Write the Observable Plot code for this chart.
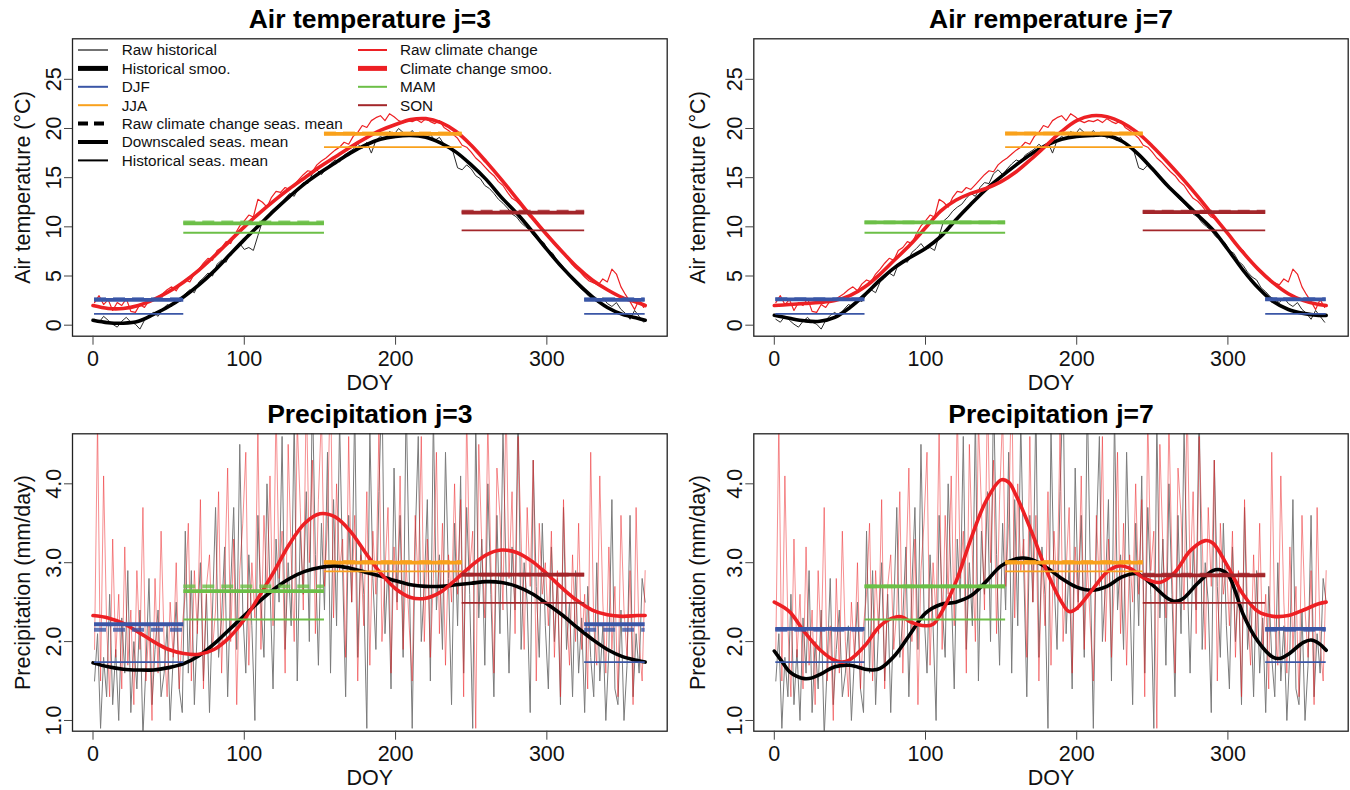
<!DOCTYPE html>
<html><head><meta charset="utf-8">
<script src="https://cdn.jsdelivr.net/npm/d3@7"></script>
<script src="https://cdn.jsdelivr.net/npm/@observablehq/plot@0.6"></script>
<style>
body{margin:0;background:#fff;}
#wrap{position:relative;width:1350px;height:790px;overflow:hidden;background:#fff;font-family:"Liberation Sans",Arial,Helvetica,sans-serif;}
.panel{position:absolute;width:675px;}
.panel svg{overflow:visible;max-width:none !important;}
</style></head><body><div id="wrap"></div>
<script>
// ---------------- data ----------------
const titles = ["Air temperature j=3", "Air remperature j=7", "Precipitation j=3", "Precipitation j=7"];
const tempTicks = [0, 5, 10, 15, 20, 25];
const precTicks = [1, 2, 3, 4];
const doyTicks = [0, 100, 200, 300];

// raw daily temperature (every 3rd day, DOY 1..364)
const rawHistT = [0.6,0.3,0.9,0.5,0.1,-0.2,0.4,0.8,0.3,0.1,-0.4,0.5,1.0,1.3,0.9,1.6,2.1,1.9,2.6,2.4,
3.2,3.6,3.3,4.4,4.8,5.3,5.0,6.2,6.6,6.4,7.4,7.8,8.3,7.7,7.9,7.6,9.1,10.6,11.0,11.6,
12.0,12.3,12.9,13.4,13.1,14.0,14.5,14.4,15.4,15.8,15.3,15.9,16.4,16.8,16.6,17.3,17.6,17.9,18.4,18.0,
18.6,17.5,18.8,19.2,18.9,19.7,19.4,20.0,19.6,19.3,19.8,19.2,19.5,19.0,19.4,18.8,19.1,18.4,18.1,17.6,
16.0,15.8,16.3,15.9,15.2,14.9,14.2,13.9,13.4,12.8,12.4,11.9,11.3,11.0,10.4,10.0,9.6,9.0,8.7,8.4,
7.6,7.3,6.5,6.1,5.4,4.9,4.6,3.8,3.4,2.9,2.6,2.3,2.8,2.2,1.9,2.3,1.6,1.2,0.6,1.5,0.9,0.3];
const rawCCT = [2.3,3.0,2.1,2.6,1.5,2.3,2.0,2.7,1.4,1.3,2.1,1.8,2.5,2.6,2.9,3.2,3.6,3.9,3.5,4.2,
4.6,4.4,5.2,5.7,6.3,6.8,6.6,7.6,7.9,8.5,8.3,9.3,10.1,10.6,11.2,11.0,12.8,12.5,12.0,13.0,
13.6,13.5,14.0,13.8,14.3,14.8,15.3,15.7,15.6,16.3,16.7,17.0,17.4,17.8,18.1,18.6,18.4,19.2,19.6,20.3,
20.1,20.8,21.1,21.3,20.8,21.5,21.2,20.8,20.6,20.8,20.7,20.9,20.6,21.0,20.7,20.5,20.8,20.1,19.8,19.4,
19.0,18.3,18.1,17.6,17.0,16.6,16.1,15.6,15.2,14.6,14.2,13.5,12.9,12.6,12.1,11.5,11.0,10.8,10.2,9.6,
9.2,8.4,7.9,7.6,6.9,6.3,5.8,5.4,4.9,4.5,4.3,4.1,4.7,4.4,5.7,5.2,3.9,3.1,2.4,1.6,2.6,1.8];

// raw daily precipitation (every 2nd day, DOY 1..365)
const rawHistP = [1.5,2.1,0.9,1.8,1.3,2.6,1.2,1.9,1.0,2.3, 1.6,2.9,1.1,2.0,1.4,2.4,0.8,1.7,2.8,1.2,
1.9,2.4,1.3,1.6,2.2,1.0,1.8,2.5,1.4,1.1, 3.4,1.6,2.9,1.2,2.2,3.0,1.5,2.6,1.1,2.4,
3.7,1.8,2.3,3.2,1.3,2.7,3.7,1.9,4.5,2.4, 1.6,3.1,2.2,1.0,3.6,2.5,1.8,4.0,2.7,1.4,
3.3,2.5,4.6,1.9,3.0,2.2,4.9,1.5,3.4,2.6, 3.9,2.0,5.2,3.1,1.7,3.5,2.4,4.4,1.6,3.8,
2.2,4.8,2.9,1.3,3.6,2.5,5.0,1.8,3.2,2.6, 0.9,4.7,2.8,1.9,3.9,5.3,2.1,3.0,1.4,4.2,
2.5,3.6,1.8,5.1,2.9,0.9,3.3,4.6,2.0,2.7, 3.8,1.5,4.9,2.4,3.1,1.9,4.4,2.8,1.2,3.5,
2.2,4.1,1.6,3.7,2.6,0.9,4.8,2.3,3.3,1.7, 4.0,2.6,1.3,3.6,2.1,4.7,2.9,1.6,3.2,2.4,
5.0,1.9,3.0,2.5,1.1,4.3,2.7,1.8,3.5,2.2, 1.4,3.2,2.0,2.8,1.2,3.7,1.9,2.5,1.3,2.9,
1.6,2.3,1.1,2.7,1.8,1.3,3.0,1.5,2.2,1.0, 1.9,3.8,1.4,1.2,2.4,1.0,1.7,3.6,1.3,2.1,
1.6,2.8,2.5];
const rawCCP = [1.9,4.8,1.5,4.1,2.2,1.3,3.3,1.8,2.6,1.4, 3.2,1.7,2.4,1.2,2.9,1.9,3.7,1.5,2.2,1.0,
2.8,1.6,3.4,2.0,1.3,2.5,1.8,3.0,1.4,2.2, 2.6,3.5,1.5,2.9,2.1,3.8,1.4,2.7,3.1,1.9,
2.4,3.9,1.6,2.8,4.2,2.0,3.3,1.2,2.9,3.5, 4.4,1.7,3.0,2.3,4.7,1.9,3.6,2.6,4.1,2.2,
5.0,2.8,3.4,1.6,4.5,3.1,2.0,4.8,3.7,2.4, 5.2,3.0,4.3,2.1,3.8,4.9,2.7,3.5,5.4,2.3,
4.0,2.9,3.3,1.8,4.6,2.5,3.6,1.5,3.1,2.2, 3.9,1.7,3.4,2.6,4.7,2.0,2.9,3.7,1.6,3.2,
2.4,4.1,1.9,3.0,2.2,1.5,3.6,2.7,4.6,2.0, 3.3,1.8,2.8,4.4,2.1,3.5,1.7,3.1,2.5,4.0,
2.6,3.8,1.3,4.9,2.9,3.4,0.9,4.5,3.2,2.3, 4.8,3.0,1.6,4.2,3.6,2.4,5.1,2.8,3.9,2.1,
4.6,3.3,1.9,3.7,2.7,4.3,1.5,3.5,2.6,3.0, 2.2,3.4,1.8,2.9,1.3,3.8,2.4,1.7,3.1,2.0,
3.5,1.9,2.6,1.4,4.4,2.2,1.7,4.1,2.5,1.6, 3.2,1.9,2.7,1.3,3.6,2.4,1.8,2.9,1.2,3.7,
2.0,1.5,2.9];

// smoothed curves
const smoothDays = [0,10,20,30,40,50,60,70,80,90,100,110,120,130,140,150,160,170,180,190,200,210,220,230,240,250,260,270,280,290,300,310,320,330,340,350,360,365];
const histSmoothT3 = [0.5,0.25,0.2,0.4,1.1,1.9,2.9,4.1,5.5,7.1,8.7,10.2,11.7,13.1,14.4,15.5,16.5,17.5,18.3,18.9,19.2,19.3,19.1,18.5,17.6,16.3,14.8,13.0,11.4,9.6,7.7,5.9,4.3,2.9,1.8,1.1,0.7,0.5];
const ccSmoothT3 = [2.0,1.7,1.7,2.0,2.6,3.4,4.4,5.6,7.0,8.5,10.0,11.4,12.7,13.9,15.0,16.1,17.1,18.1,19.0,19.8,20.4,20.9,21.0,20.6,19.7,18.3,16.6,14.8,12.9,11.0,9.2,7.5,5.9,4.6,3.6,2.8,2.3,2.0];
const histSmoothT7 = [1.0,0.7,0.45,0.4,0.8,1.8,3.1,4.6,5.9,6.9,7.8,9.0,10.7,12.3,13.8,15.1,16.3,17.4,18.3,18.9,19.2,19.3,19.3,18.7,17.5,15.9,14.2,12.7,11.2,9.7,7.7,5.6,3.8,2.4,1.6,1.2,1.0,1.0];
const ccSmoothT7 = [2.0,2.1,2.2,2.3,2.5,3.0,3.9,5.2,6.7,8.2,9.9,11.6,12.7,13.4,13.9,14.6,15.6,16.9,18.3,19.7,20.8,21.3,21.2,20.6,19.6,18.2,16.6,14.9,13.1,11.2,9.3,7.4,5.7,4.3,3.2,2.5,2.1,2.0];
const histSmoothP3 = [1.73,1.68,1.65,1.64,1.64,1.67,1.72,1.82,1.97,2.15,2.33,2.51,2.67,2.80,2.89,2.94,2.96,2.93,2.88,2.83,2.77,2.72,2.70,2.70,2.72,2.74,2.76,2.75,2.70,2.61,2.48,2.34,2.18,2.03,1.90,1.81,1.76,1.74];
const ccSmoothP3 = [2.33,2.30,2.23,2.12,2.00,1.90,1.85,1.84,1.90,2.05,2.28,2.58,2.90,3.24,3.50,3.62,3.58,3.40,3.13,2.87,2.67,2.56,2.55,2.63,2.79,2.96,3.10,3.16,3.13,3.02,2.86,2.68,2.52,2.40,2.34,2.32,2.33,2.33];
const histDaysP7 = [0,5,10,15,20,25,30,40,50,60,65,70,80,90,100,110,120,130,140,150,160,165,170,180,190,200,210,220,230,240,250,260,265,270,280,290,295,300,305,310,320,330,335,340,350,355,360,365];
const histSmoothP7 = [1.88,1.75,1.62,1.56,1.53,1.54,1.58,1.68,1.70,1.65,1.64,1.66,1.83,2.10,2.36,2.47,2.50,2.58,2.76,2.96,3.05,3.06,3.04,2.94,2.80,2.69,2.65,2.70,2.82,2.86,2.72,2.55,2.51,2.54,2.74,2.90,2.91,2.85,2.63,2.35,2.00,1.80,1.79,1.84,1.99,2.02,1.98,1.89];
const ccDaysP7 = [0,10,20,30,40,45,50,60,70,80,85,90,100,105,110,120,130,140,150,155,160,170,180,190,195,200,210,220,228,235,245,255,265,275,285,290,300,310,320,330,340,350,360,365];
const ccSmoothP7 = [2.50,2.38,2.12,1.90,1.76,1.74,1.77,1.95,2.20,2.31,2.31,2.25,2.20,2.22,2.35,2.75,3.30,3.78,4.05,4.02,3.85,3.40,2.90,2.50,2.38,2.42,2.65,2.88,2.96,2.93,2.80,2.75,2.88,3.15,3.28,3.25,2.95,2.60,2.38,2.32,2.33,2.40,2.48,2.50];

// seasons: DJF, MAM, JJA, SON, DJF (second part)
const seasonNames = ["DJF", "MAM", "JJA", "SON"];
const seasonStart = [1, 60, 153, 244, 325];
const seasonEnd = [60, 153, 244, 325, 365];
const seasonOf = [0, 1, 2, 3, 0];
const histMeanT = [1.15, 9.4, 18.1, 9.65];
const ccRawMeanT = [2.64, 10.45, 19.5, 11.55];
const downMeanT3 = [2.58, 10.35, 19.45, 11.45];
const downMeanT7 = [2.62, 10.45, 19.47, 11.5];
const histMeanP = [1.74, 2.28, 2.89, 2.49];
const ccRawMeanP = [2.15, 2.70, 3.01, 2.85];
const downMeanP3 = [2.22, 2.64, 3.00, 2.85];
const downMeanP7 = [2.16, 2.70, 3.00, 2.84];

// ---------------- styles ----------------
const seasonColors = ["#3A56A6", "#6CBF47", "#F9A11C", "#A3262A"];
const RED = "#ED2024";
const FONT = "Liberation Sans, Arial, Helvetica, sans-serif";
const TICK_FS = 21.5, LAB_FS = 21.5, TITLE_FS = 26.5;

function series(days, vals) { return vals.map((v, i) => ({d: days[i], v})); }
const dT = d3.range(1, 366, 3);
const dP = d3.range(1, 366, 2);

function segmentMarks(hist, ccRaw, down) {
  const marks = [];
  for (let k = 0; k < 5; k++) {
    const s = seasonOf[k], c = seasonColors[s];
    const row = [{x1: seasonStart[k], x2: seasonEnd[k], h: hist[s], r: ccRaw[s], w: down[s]}];
    marks.push(Plot.ruleY(row, {y: "h", x1: "x1", x2: "x2", stroke: c, strokeWidth: 1.8}));
    marks.push(Plot.ruleY(row, {y: "w", x1: "x1", x2: "x2", stroke: c, strokeWidth: 3.8}));
    marks.push(Plot.ruleY(row, {y: "r", x1: "x1", x2: "x2", stroke: c, strokeWidth: 3.8, strokeDasharray: "12,7", strokeOpacity: 0.8}));
  }
  return marks;
}

function panel(opts) {
  const {title, left, top, width, mLeft, mRight, yDomain, yTicks, yFmt, yLabel, rawH, rawC, rawDays, sH, sC, seg, precip} = opts;
  const chart = Plot.plot({
    width, height: 395,
    marginLeft: mLeft, marginRight: mRight, marginTop: 38.3, marginBottom: 59.3,
    x: {domain: [-13.56, 379.56]},
    y: {domain: yDomain},
    style: {fontFamily: FONT, fontSize: TICK_FS + "px", color: "#111", background: "transparent", maxWidth: "none"},
    marks: [
      Plot.line(series(rawDays, rawH), {x: "d", y: "v", stroke: precip ? "#7b7b7b" : "#2a2a2a", strokeWidth: 1, clip: true}),
      Plot.line(series(rawDays, rawC), {x: "d", y: "v", stroke: RED, strokeOpacity: precip ? 0.5 : 1, strokeWidth: precip ? 1 : 1.2, clip: true}),
      Plot.line(sH, {x: "d", y: "v", stroke: "#000", strokeWidth: 3.6, curve: "catmull-rom", clip: true}),
      Plot.line(sC, {x: "d", y: "v", stroke: RED, strokeWidth: 3.6, curve: "catmull-rom", clip: true}),
      ...seg,
      Plot.frame({stroke: "#222", strokeWidth: 1.3}),
      Plot.axisX({ticks: doyTicks, tickSize: 9, tickPadding: 6, tickFormat: d => String(d), label: null, fontSize: TICK_FS, stroke: "#444", fill: "#111"}),
      Plot.axisY({ticks: yTicks, tickSize: 8, tickPadding: 4, tickRotate: -90, tickFormat: yFmt, label: null, fontSize: TICK_FS, stroke: "#444", fill: "#111"}),
      Plot.text([title], {text: d => d, frameAnchor: "top", dy: -19, lineAnchor: "middle", textAnchor: "middle", fontWeight: "bold", fontSize: TITLE_FS, fill: "#000"}),
      Plot.text(["DOY"], {text: d => d, frameAnchor: "bottom", dy: 47, lineAnchor: "middle", textAnchor: "middle", fontSize: LAB_FS, fill: "#111"}),
      Plot.text([yLabel], {text: d => d, frameAnchor: "left", dx: -(mLeft - 23), rotate: -90, lineAnchor: "middle", textAnchor: "middle", fontSize: LAB_FS, fill: "#111"})
    ]
  });
  const div = document.createElement("div");
  div.className = "panel";
  div.style.left = left + "px";
  div.style.top = top + "px";
  div.appendChild(chart);
  document.getElementById("wrap").appendChild(div);
}

const tLabel = "Air temperature (°C)";
const pLabel = "Precipitation (mm/day)";
const tDomain = [-1.12, 29.12];
const pDomain = [0.864, 4.634];
const fmtT = d => String(d);
const fmtP = d3.format(".1f");

panel({title: titles[0], left: 0, top: 0, width: 675, mLeft: 72, mRight: 8.3, yDomain: tDomain, yTicks: tempTicks, yFmt: fmtT, yLabel: tLabel,
  rawH: rawHistT, rawC: rawCCT, rawDays: dT, sH: series(smoothDays, histSmoothT3), sC: series(smoothDays, ccSmoothT3),
  seg: segmentMarks(histMeanT, ccRawMeanT, downMeanT3), precip: false});
panel({title: titles[1], left: 675, top: 0, width: 675, mLeft: 78.3, mRight: 2.3, yDomain: tDomain, yTicks: tempTicks, yFmt: fmtT, yLabel: tLabel,
  rawH: rawHistT, rawC: rawCCT, rawDays: dT, sH: series(smoothDays, histSmoothT7), sC: series(smoothDays, ccSmoothT7),
  seg: segmentMarks(histMeanT, ccRawMeanT, downMeanT7), precip: false});
panel({title: titles[2], left: 0, top: 395, width: 675, mLeft: 72, mRight: 8.3, yDomain: pDomain, yTicks: precTicks, yFmt: fmtP, yLabel: pLabel,
  rawH: rawHistP, rawC: rawCCP, rawDays: dP, sH: series(smoothDays, histSmoothP3), sC: series(smoothDays, ccSmoothP3),
  seg: segmentMarks(histMeanP, ccRawMeanP, downMeanP3), precip: true});
panel({title: titles[3], left: 675, top: 395, width: 675, mLeft: 78.3, mRight: 2.3, yDomain: pDomain, yTicks: precTicks, yFmt: fmtP, yLabel: pLabel,
  rawH: rawHistP, rawC: rawCCP, rawDays: dP, sH: series(histDaysP7, histSmoothP7), sC: series(ccDaysP7, ccSmoothP7),
  seg: segmentMarks(histMeanP, ccRawMeanP, downMeanP7), precip: true});

// ---------------- legend (top-left panel) ----------------
const legendCol1 = ["Raw historical", "Historical smoo.", "DJF", "JJA", "Raw climate change seas. mean", "Downscaled seas. mean", "Historical seas. mean"];
const legendCol2 = ["Raw climate change", "Climate change smoo.", "MAM", "SON"];
const legStyle1 = [["#444", 1.5, null], ["#000", 5, null], [seasonColors[0], 2, null], [seasonColors[2], 2, null], ["#000", 4, "10,6"], ["#000", 4, null], ["#000", 2, null]];
const legStyle2 = [[RED, 2, null], [RED, 5, null], [seasonColors[1], 2, null], [seasonColors[3], 2, null]];
const leg = d3.select("#wrap").append("svg").attr("width", 675).attr("height", 200)
  .style("position", "absolute").style("left", "0px").style("top", "0px").style("pointer-events", "none");
function legendColumn(labels, styles, x1, x2, tx) {
  labels.forEach((lab, i) => {
    const y = 50 + i * 18.4;
    const [c, w, dash] = styles[i];
    const ln = leg.append("line").attr("x1", x1).attr("x2", x2).attr("y1", y).attr("y2", y).attr("stroke", c).attr("stroke-width", w);
    if (dash) ln.attr("stroke-dasharray", dash);
    leg.append("text").attr("x", tx).attr("y", y).attr("dy", "0.35em").attr("font-family", FONT).attr("font-size", 15.3).attr("fill", "#111").text(lab);
  });
}
legendColumn(legendCol1, legStyle1, 78, 108, 121.7);
legendColumn(legendCol2, legStyle2, 358, 387, 400);
</script></body></html>
